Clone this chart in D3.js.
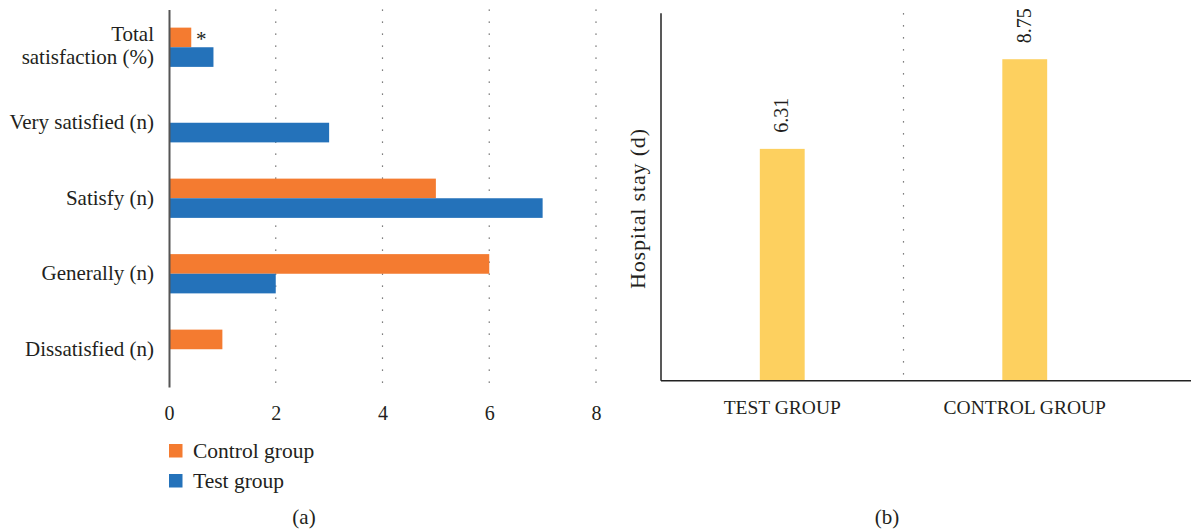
<!DOCTYPE html>
<html>
<head>
<meta charset="utf-8">
<script src="https://cdn.jsdelivr.net/npm/d3@7"></script>
<style>
  html, body { margin: 0; padding: 0; background: #fff; }
  svg { display: block; }
  text { font-family: "Liberation Serif", "DejaVu Serif", serif; fill: #231f20; }
</style>
</head>
<body>
<svg id="chart" width="1191" height="531"></svg>
<script>
// Panel (a): satisfaction by group
const satCategories = ["Total satisfaction (%)", "Very satisfied (n)", "Satisfy (n)", "Generally (n)", "Dissatisfied (n)"];
const controlValues = [0.417, 0, 5, 6, 1];
const testValues = [0.833, 3, 7, 2, 0];
const satTicks = [0, 2, 4, 6, 8];
const seriesNames = ["Control group", "Test group"];
const seriesColors = ["#f47b30", "#2472ba"];

// Panel (b): hospital stay
const stayGroups = ["TEST GROUP", "CONTROL GROUP"];
const stayValues = [6.31, 8.75];

const svg = d3.select("#chart");
const FONT = '"Liberation Serif", serif';

// ---------- Panel (a) ----------
const a = { left: 169, right: 596, top: 9.5, bottom: 387 };
const x = d3.scaleLinear().domain([0, 8]).range([a.left, a.right]);
const y = d3.scaleBand().domain(satCategories).range([a.top, a.bottom]).padding(0);
const barH = y.bandwidth() * 0.26;

const gA = svg.append("g");

// dotted vertical gridlines
gA.selectAll("line.grid").data(satTicks.filter(d => d > 0)).join("line")
  .attr("x1", d => x(d)).attr("x2", d => x(d))
  .attr("y1", a.top).attr("y2", a.bottom - 4)
  .attr("stroke", "#555").attr("stroke-width", 1.2)
  .attr("stroke-dasharray", "1.2 10.8");

const rows = satCategories.map((c, i) => ({ c, control: controlValues[i], test: testValues[i] }));

gA.selectAll("rect.ctrl").data(rows).join("rect")
  .attr("x", x(0))
  .attr("y", d => y(d.c) + y.bandwidth() / 2 - barH)
  .attr("width", d => x(d.control) - x(0))
  .attr("height", barH)
  .attr("fill", seriesColors[0]);

gA.selectAll("rect.test").data(rows).join("rect")
  .attr("x", x(0))
  .attr("y", d => y(d.c) + y.bandwidth() / 2)
  .attr("width", d => x(d.test) - x(0))
  .attr("height", barH)
  .attr("fill", seriesColors[1]);

// significance marker on total satisfaction
gA.append("text")
  .attr("x", x(controlValues[0]) + 10)
  .attr("y", y(satCategories[0]) + y.bandwidth() / 2 - barH / 2 + 9)
  .attr("text-anchor", "middle")
  .attr("font-size", 21)
  .text("*");

// category axis
const yAxis = gA.append("g").attr("transform", `translate(${a.left},0)`)
  .call(d3.axisLeft(y).tickSize(0).tickPadding(15));
yAxis.select(".domain").attr("stroke", "#555").attr("stroke-width", 2);
yAxis.selectAll("text").attr("font-size", 21).attr("fill", "#231f20")
  .style("font-family", FONT)
  .each(function (d) {
    if (d === "Total satisfaction (%)") {
      const t = d3.select(this);
      t.text(null);
      t.append("tspan").attr("x", -15).attr("dy", "-0.3em").text("Total");
      t.append("tspan").attr("x", -15).attr("dy", "1.12em").text("satisfaction (%)");
    }
  });

// value axis
const xAxis = gA.append("g").attr("transform", `translate(0,${a.bottom})`)
  .call(d3.axisBottom(x).tickValues(satTicks).tickSize(0).tickPadding(19));
xAxis.select(".domain").remove();
xAxis.selectAll("text").attr("font-size", 20).attr("fill", "#231f20")
  .style("font-family", FONT);

// legend
const legend = gA.append("g");
seriesNames.forEach((n, i) => {
  const ly = 444 + i * 30;
  legend.append("rect").attr("x", 169).attr("y", ly).attr("width", 13.5).attr("height", 13.5).attr("fill", seriesColors[i]);
  legend.append("text").attr("x", 193).attr("y", ly + 13.5).attr("font-size", 21.5).text(n);
});

gA.append("text").attr("x", 304).attr("y", 524).attr("text-anchor", "middle").attr("font-size", 21).text("(a)");

// ---------- Panel (b) ----------
const b = { left: 661, right: 1146, top: 13.3, bottom: 380.7 };
const xb = d3.scaleBand().domain(stayGroups).range([b.left, b.right]).padding(0);
const yb = d3.scaleLinear().domain([0, 10]).range([b.bottom, b.top]);
const barW = xb.bandwidth() * 0.185;

const gB = svg.append("g");

// dotted separator between groups
gB.append("line")
  .attr("x1", xb(stayGroups[1])).attr("x2", xb(stayGroups[1]))
  .attr("y1", b.top).attr("y2", b.bottom - 5)
  .attr("stroke", "#555").attr("stroke-width", 1.2)
  .attr("stroke-dasharray", "1.2 10.8");

gB.selectAll("rect.stay").data(stayGroups).join("rect")
  .attr("x", (d) => xb(d) + xb.bandwidth() / 2 - barW / 2)
  .attr("y", (d, i) => yb(stayValues[i]))
  .attr("width", barW)
  .attr("height", (d, i) => yb(0) - yb(stayValues[i]))
  .attr("fill", "#fdd05f");

// rotated value labels
gB.selectAll("text.val").data(stayGroups).join("text")
  .attr("transform", (d, i) => `translate(${xb(d) + xb.bandwidth() / 2 + 6},${yb(stayValues[i]) - 16}) rotate(-90)`)
  .attr("font-size", 20)
  .attr("fill", "#333")
  .text((d, i) => stayValues[i].toFixed(2));

// axes frame
gB.append("line").attr("x1", b.left).attr("x2", b.left).attr("y1", b.top).attr("y2", b.bottom)
  .attr("stroke", "#222").attr("stroke-width", 1.5);
gB.append("line").attr("x1", b.left).attr("x2", 1191).attr("y1", b.bottom).attr("y2", b.bottom)
  .attr("stroke", "#222").attr("stroke-width", 1.5);

const xbAxis = gB.append("g").attr("transform", `translate(0,${b.bottom})`)
  .call(d3.axisBottom(xb).tickSize(0).tickPadding(19));
xbAxis.select(".domain").remove();
xbAxis.selectAll("text").attr("font-size", 19.5).attr("fill", "#231f20")
  .style("font-family", FONT);

gB.append("text")
  .attr("transform", `translate(645,209) rotate(-90)`)
  .attr("text-anchor", "middle").attr("font-size", 22)
  .attr("textLength", 160).attr("lengthAdjust", "spacing")
  .text("Hospital stay (d)");

gB.append("text").attr("x", 887).attr("y", 524).attr("text-anchor", "middle").attr("font-size", 21).text("(b)");
</script>
</body>
</html>
